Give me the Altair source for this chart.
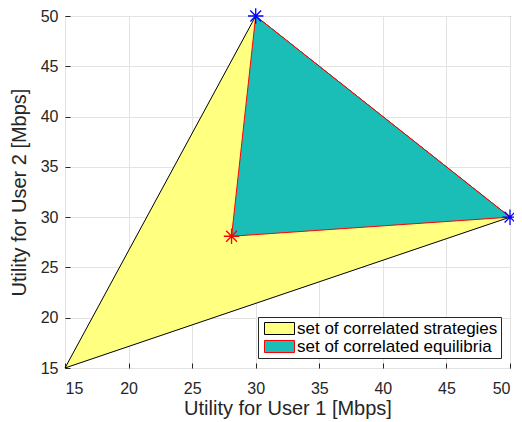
import altair as alt
import pandas as pd

# polygon vertices (closed)
strat_x = [15, 30, 50, 15]
strat_y = [15, 50, 30, 15]
equil_x = [30, 50, 28.1, 30]
equil_y = [50, 30, 28.1, 50]
# star markers
blue_x = [30, 50]
blue_y = [50, 30]
red_x = [28.1]
red_y = [28.1]

names = ["set of correlated strategies", "set of correlated equilibria"]
fills = ["#FFFF80", "#1BBDB7"]
strokes = ["#000000", "#FF0000"]

rows = []
for i, (x, y) in enumerate(zip(strat_x, strat_y)):
    rows.append({"set": names[0], "x": x, "y": y, "i": i, "g": 0})
for i, (x, y) in enumerate(zip(equil_x, equil_y)):
    rows.append({"set": names[1], "x": x, "y": y, "i": i, "g": 1})
poly = pd.DataFrame(rows)

blue = pd.DataFrame({"x": blue_x, "y": blue_y})
red = pd.DataFrame({"x": red_x, "y": red_y})

W, H = 445, 352
FONT = "Liberation Sans"
TXT = "#262626"

xs = alt.Scale(domain=[15, 50], nice=False, zero=False)
ys = alt.Scale(domain=[15, 50], nice=False, zero=False)
ticks = list(range(15, 51, 5))

x_main = alt.X("x:Q", scale=xs, title="Utility for User 1 [Mbps]",
               axis=alt.Axis(values=ticks, ticks=False, domain=False, grid=True,
                             labelPadding=12, titlePadding=2))
y_main = alt.Y("y:Q", scale=ys, title="Utility for User 2 [Mbps]",
               axis=alt.Axis(values=ticks, ticks=False, domain=False, grid=True,
                             labelPadding=7, titlePadding=11))

star = "M-1,0L1,0M0,-1L0,1M-0.7,-0.7L0.7,0.7M-0.7,0.7L0.7,-0.7"

leg = alt.Legend(title=None, orient="none", legendX=193, legendY=301)
polys = alt.Chart(poly).mark_line(strokeWidth=1, strokeJoin="miter").encode(
    x=x_main,
    y=y_main,
    order=alt.Order("i:Q"),
    detail="g:N",
    fill=alt.Fill("set:N", scale=alt.Scale(domain=names, range=fills), legend=leg),
    stroke=alt.Stroke("set:N", scale=alt.Scale(domain=names, range=strokes), legend=leg),
)

x_tick = alt.X("x:Q", scale=xs, title=None,
               axis=alt.Axis(values=ticks, orient="top", offset=-H, labels=False,
                             domain=False, grid=False, ticks=True, tickSize=5,
                             tickColor=TXT))
y_tick = alt.Y("y:Q", scale=ys, title=None,
               axis=alt.Axis(values=ticks, orient="right", offset=-W, labels=False,
                             domain=False, grid=False, ticks=True, tickSize=5,
                             tickColor=TXT))

blue_stars = alt.Chart(blue).mark_point(shape=star, size=240, stroke="#0000FF",
                                        strokeWidth=1.3, filled=False, opacity=1).encode(
    x=x_tick, y=y_tick)
red_stars = alt.Chart(red).mark_point(shape=star, size=240, stroke="#FF0000",
                                      strokeWidth=1.3, filled=False, opacity=1).encode(
    x=alt.X("x:Q", scale=xs, axis=None), y=alt.Y("y:Q", scale=ys, axis=None))

chart = alt.layer(polys, blue_stars, red_stars).resolve_axis(
    x="independent", y="independent"
).properties(
    width=W, height=H,
    autosize=alt.AutoSizeParams(type="none"),
    padding={"left": 57, "top": 8, "right": 4, "bottom": 54},
).configure_view(
    stroke=TXT, strokeWidth=1
).configure_axis(
    labelFont=FONT, titleFont=FONT, labelFontSize=16, titleFontSize=20,
    labelColor=TXT, titleColor=TXT, titleFontWeight="normal",
    gridColor="#E3E3E3", gridOpacity=1, labelAngle=0,
).configure_legend(
    labelFont=FONT, labelFontSize=17, labelColor="#000000",
    strokeColor=TXT, fillColor="white", padding=3, cornerRadius=0,
    symbolType="M-2.5,-1H2.5V1H-2.5Z", symbolSize=144,
    symbolOffset=10, symbolStrokeWidth=1, rowPadding=0, labelOffset=9, labelLimit=400,
)

chart.save("out.html", embed_options={"renderer": "svg", "actions": False})
